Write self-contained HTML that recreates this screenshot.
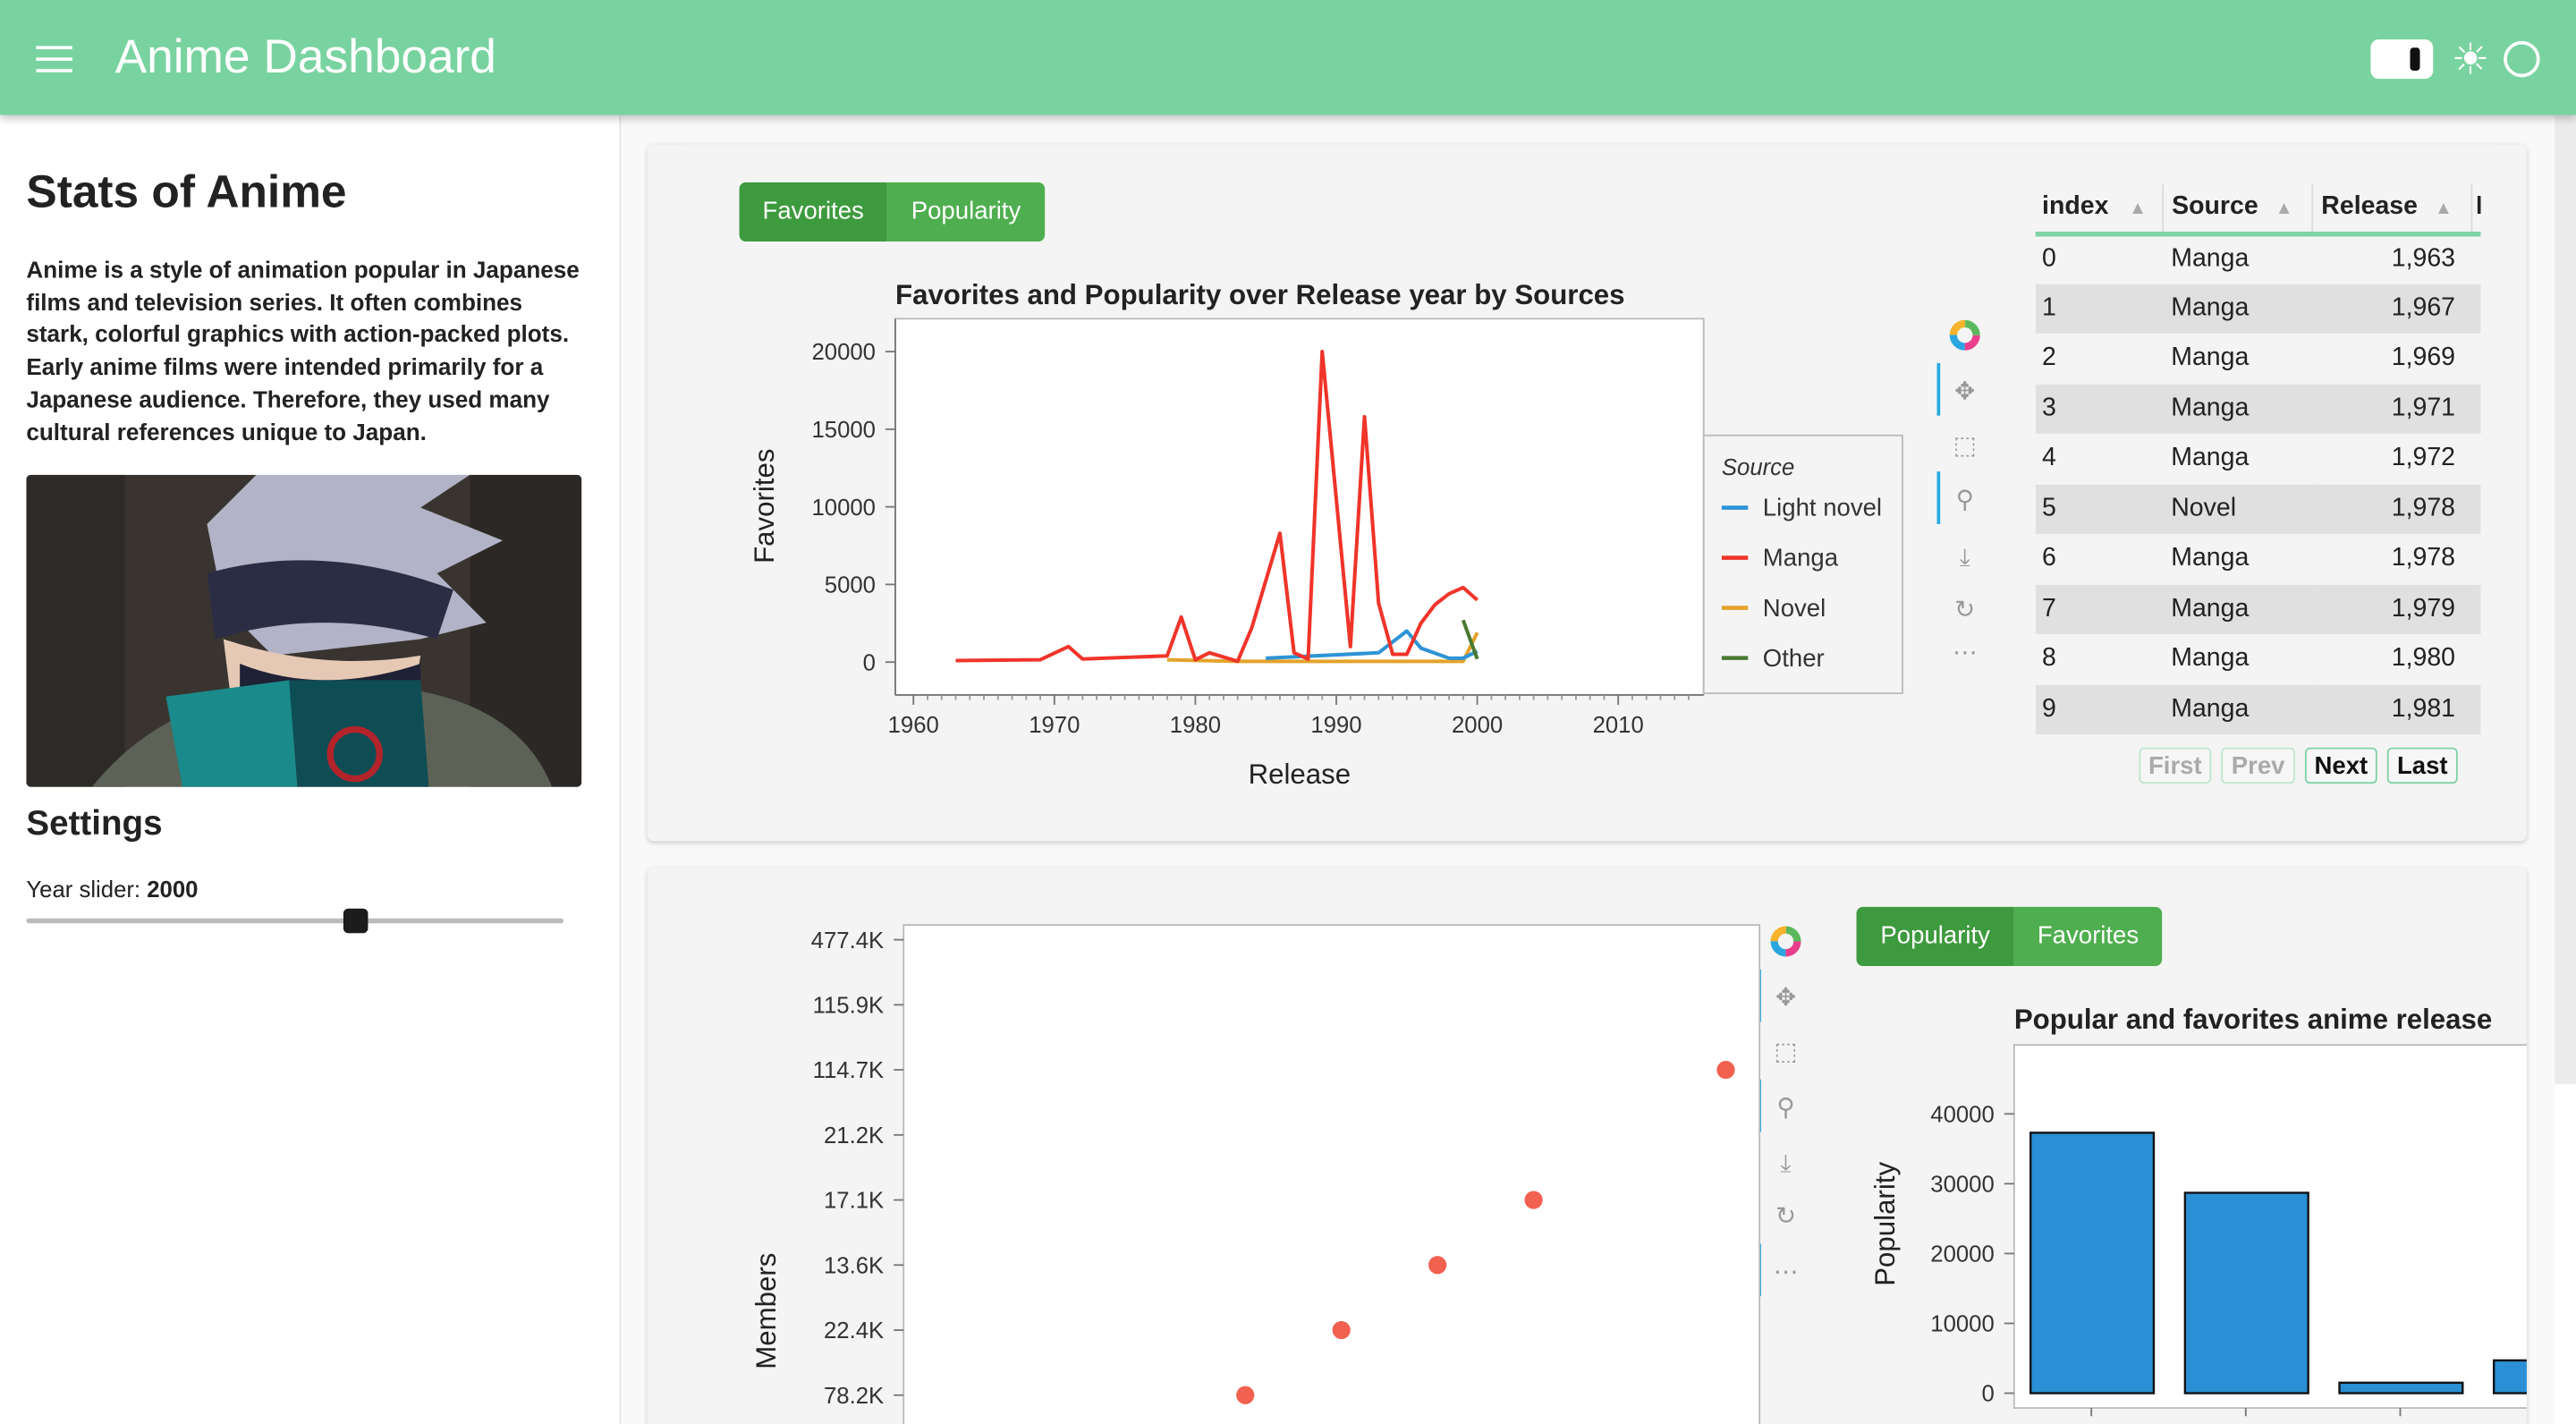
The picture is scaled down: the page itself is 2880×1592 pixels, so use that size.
<!DOCTYPE html>
<html><head><meta charset="utf-8">
<style>
html,body{margin:0;padding:0;width:2880px;height:1592px;overflow:hidden;background:#fff;}
#root{position:absolute;left:0;top:0;width:1568px;height:867px;transform:scale(1.836735);transform-origin:0 0;font-family:"Liberation Sans",sans-serif;background:#fff;overflow:hidden;}
.abs{position:absolute;}
#header{left:0;top:0;width:1568px;height:70px;background:#79d3a0;box-shadow:0 2px 5px rgba(0,0,0,.25);z-index:5;}
#main{left:378px;top:70px;width:1177px;height:797px;background:#f9f9f9;}
.card{background:#f4f4f4;border-radius:4px;box-shadow:0 1px 3px rgba(0,0,0,.18);}
.btn{position:absolute;color:#fff;font-size:15px;text-align:center;line-height:36px;}
table{border-collapse:collapse;}
.pg{position:absolute;top:455px;height:22px;border:1.5px solid #7fd3a5;border-radius:3px;font-size:15px;font-weight:bold;text-align:center;line-height:22px;background:#f6f6f6;box-sizing:border-box;}
</style></head>
<body>
<div id="root">
<div id="header" class="abs">
  <div class="abs" style="left:22px;top:28px;width:22px;height:16px;">
    <div style="height:2px;background:#fff;margin-bottom:5px"></div><div style="height:2px;background:#fff;margin-bottom:5px"></div><div style="height:2px;background:#fff"></div>
  </div>
  <div class="abs" style="left:70px;top:19px;color:#fff;font-size:29px;">Anime Dashboard</div>
  <div class="abs" style="left:1443px;top:24px;width:38px;height:24px;background:#fff;border-radius:5px;"><div style="position:absolute;left:24px;top:5px;width:6px;height:14px;background:#111;border-radius:2px"></div></div>
  <div class="abs" style="left:1492px;top:21px;color:#fff;font-size:26px;line-height:30px;">☀</div>
  <div class="abs" style="left:1524px;top:25px;width:18px;height:18px;border:2.5px solid #fff;border-radius:50%;"></div>
</div>

<div class="abs" style="left:0;top:70px;width:377px;height:797px;background:#fff;border-right:1px solid #e3e3e3;">
  <div class="abs" style="left:16px;top:31px;font-size:28px;font-weight:bold;color:#222;">Stats of Anime</div>
  <div class="abs" style="left:16px;top:86px;width:355px;white-space:nowrap;font-size:14.2px;font-weight:bold;line-height:19.7px;color:#222;">Anime is a style of animation popular in Japanese<br>films and television series. It often combines<br>stark, colorful graphics with action-packed plots.<br>Early anime films were intended primarily for a<br>Japanese audience. Therefore, they used many<br>cultural references unique to Japan.</div>
  <svg class="abs" style="left:16px;top:219px;border-radius:3px;" width="338" height="190" viewBox="0 0 338 190">
    <rect width="338" height="190" fill="#3a3430"/>
    <rect x="0" y="0" width="60" height="190" fill="#2e2a27"/><rect x="270" y="0" width="68" height="190" fill="#2c2825"/>
    <path d="M40 190 Q80 140 150 130 L230 130 Q300 140 320 190Z" fill="#5c6256"/>
    <path d="M110 30 L140 0 L270 0 L240 20 L290 40 L250 60 L280 90 L240 100 L150 110 L120 80Z" fill="#b2b3c6"/>
    <path d="M110 60 Q180 40 260 70 L250 100 Q180 80 115 100Z" fill="#2b2d45"/>
    <path d="M120 100 Q180 120 240 110 L235 140 L125 140Z" fill="#e5c9b5"/>
    <path d="M130 115 Q180 135 240 115 L240 150 L130 150Z" fill="#1f2135"/>
    <path d="M85 135 L160 125 L165 190 L95 190Z" fill="#1a8a8a"/>
    <path d="M160 125 L240 125 L245 190 L165 190Z" fill="#0f4d55"/>
    <circle cx="200" cy="170" r="15" fill="none" stroke="#b3232a" stroke-width="4"/>
  </svg>
  <div class="abs" style="left:16px;top:420px;font-size:21px;font-weight:bold;color:#222;">Settings</div>
  <div class="abs" style="left:16px;top:463px;font-size:14px;color:#222;">Year slider: <b>2000</b></div>
  <div class="abs" style="left:16px;top:489px;width:327px;height:3px;background:#bbb;border-radius:2px;"></div>
  <div class="abs" style="left:209px;top:483px;width:15px;height:15px;background:#1c1c1c;border-radius:3px;"></div>
</div>

<div id="main" class="abs"></div>
<div class="abs" style="left:1555px;top:70px;width:13px;height:590px;background:#ececec;"></div>

<div class="abs card" style="left:394px;top:88px;width:1144px;height:424px;"></div>
<div class="abs card" style="left:394px;top:528px;width:1144px;height:360px;"></div>

<div class="btn" style="left:450px;top:111px;width:90px;height:36px;background:#3e9a3e;border-radius:4px 0 0 4px;">Favorites</div>
<div class="btn" style="left:540px;top:111px;width:96px;height:36px;background:#4fae4f;border-radius:0 4px 4px 0;">Popularity</div>
<div class="btn" style="left:1130px;top:552px;width:96px;height:36px;background:#3e9a3e;border-radius:4px 0 0 4px;">Popularity</div>
<div class="btn" style="left:1226px;top:552px;width:90px;height:36px;background:#4fae4f;border-radius:0 4px 4px 0;">Favorites</div>

<div class="abs" style="left:1239px;top:112px;width:271px;overflow:hidden;font-size:15.5px;color:#222;">
<table id="tbl" style="width:290px;table-layout:fixed;">
<tr style="height:30px;border-bottom:3px solid #7fd3a5;font-weight:bold;">
<th style="width:72px;text-align:left;padding-left:4px;border-right:1px solid #ddd;">index <span style="color:#aaa;font-size:11px;margin-left:8px">▲</span></th>
<th style="width:84px;text-align:left;padding-left:5px;border-right:1px solid #ddd;">Source <span style="color:#aaa;font-size:11px;margin-left:6px">▲</span></th>
<th style="width:90px;text-align:left;padding-left:5px;border-right:1px solid #ddd;">Release <span style="color:#aaa;font-size:11px;margin-left:6px">▲</span></th>
<th style="text-align:left;padding-left:2px">I</th></tr>
</table></div>
<div class="pg" style="left:1302px;width:44px;color:#aaa;border-color:#bfe6cf;">First</div>
<div class="pg" style="left:1352px;width:45px;color:#aaa;border-color:#bfe6cf;">Prev</div>
<div class="pg" style="left:1403px;width:44px;color:#111;">Next</div>
<div class="pg" style="left:1453px;width:43px;color:#111;">Last</div>

<svg id="svg" class="abs" style="left:0;top:0" width="1568" height="867">
<defs><clipPath id="barclip"><rect x="1100" y="600" width="438" height="267"/></clipPath></defs>
</svg>
</div>

<script>
const tblIndex=[0,1,2,3,4,5,6,7,8,9];
const tblSource=["Manga","Manga","Manga","Manga","Manga","Novel","Manga","Manga","Manga","Manga"];
const tblRelease=["1,963","1,967","1,969","1,971","1,972","1,978","1,978","1,979","1,980","1,981"];

const mangaYears=[1963,1969,1971,1972,1978,1979,1980,1981,1983,1984,1986,1987,1988,1989,1991,1992,1993,1994,1995,1996,1997,1998,1999,2000];
const mangaFav=[100,150,1000,200,400,2900,150,600,50,2200,8300,600,200,20000,1000,15800,3800,500,500,2500,3700,4400,4800,4000];
const lightYears=[1985,1993,1995,1996,1998,1999,2000];
const lightFav=[250,600,2000,900,250,250,700];
const novelYears=[1978,1983,1999,2000];
const novelFav=[150,50,50,1900];
const otherYears=[1999,2000];
const otherFav=[2700,200];
const xTicks=[1960,1970,1980,1990,2000,2010];
const yTicks=[0,5000,10000,15000,20000];

const scatterLabels=["477.4K","115.9K","114.7K","21.2K","17.1K","13.6K","22.4K","78.2K"];
const scatterX=[1996,1997,1998,1999,2001];
const scatterCat=["78.2K","22.4K","13.6K","17.1K","114.7K"];

const barCats=["A","B","C","D"];
const barVals=[37300,28700,1500,4700];
const barTicks=[0,10000,20000,30000,40000];

const NS="http://www.w3.org/2000/svg";
const svg=document.getElementById('svg');
function mk(tag,attrs,parent){const e=document.createElementNS(NS,tag);for(const k in attrs)e.setAttribute(k,attrs[k]);(parent||svg).appendChild(e);return e;}
function txt(x,y,s,attrs){const e=mk('text',Object.assign({x:x,y:y,'font-family':'Liberation Sans, sans-serif'},attrs||{}));e.textContent=s;return e;}

const tbl=document.getElementById('tbl');
tblIndex.forEach((v,i)=>{
  const tr=document.createElement('tr');
  
  
  tr.style.height='30.5px';tr.style.background=i%2?'#e0e0e0':'#f4f4f4';
  tr.innerHTML='<td style="padding-left:4px">'+v+'</td><td style="padding-left:5px">'+tblSource[i]+'</td><td style="text-align:right;padding-right:10px">'+tblRelease[i]+'</td><td></td>';
  tbl.appendChild(tr);
});

const L={x0:545,x1:1037,y0:194,y1:423};
const lx=y=>556+(y-1960)*8.58;
const ly=v=>403-v*0.00945;
let g=mk('g',{});


mk('rect',{x:L.x0,y:L.y0,width:L.x1-L.x0,height:L.y1-L.y0,fill:'#fff',stroke:'#bbb'},g);
txt(545,185,'Favorites and Popularity over Release year by Sources',{'font-size':17,'font-weight':'bold',fill:'#222'});
mk('line',{x1:L.x0,y1:L.y1,x2:L.x1,y2:L.y1,stroke:'#777'},g);
mk('line',{x1:L.x0,y1:L.y0,x2:L.x0,y2:L.y1,stroke:'#777'},g);
xTicks.forEach(t=>{mk('line',{x1:lx(t),y1:L.y1,x2:lx(t),y2:L.y1+6,stroke:'#777'},g);
  const e=txt(lx(t),446,t,{'font-size':14,'text-anchor':'middle',fill:'#333'});});
for(let y=1961;y<2016;y++){if(y%10)mk('line',{x1:lx(y),y1:L.y1,x2:lx(y),y2:L.y1+3,stroke:'#999'},g);}
yTicks.forEach(t=>{mk('line',{x1:L.x0-6,y1:ly(t),x2:L.x0,y2:ly(t),stroke:'#777'},g);
  const e=txt(L.x0-12,ly(t)+5,t,{'font-size':14,'text-anchor':'end',fill:'#333'});});
const xt=txt(791,477,'Release',{'font-size':17,'text-anchor':'middle',fill:'#222'});
const yt=txt(0,0,'Favorites',{'font-size':17,'text-anchor':'middle',fill:'#222',transform:'translate(471,308) rotate(-90)'});
function series(xs,vs,color,name){const p=mk('polyline',{points:xs.map((x,i)=>lx(x)+','+ly(vs[i])).join(' '),fill:'none',stroke:color,'stroke-width':2.2,'stroke-linejoin':'round'},g);
  }
series(novelYears,novelFav,'#e3a32b','novel-line');
series(lightYears,lightFav,'#2d94d6','light-novel-line');
series(mangaYears,mangaFav,'#f0342a','manga-line');
series(otherYears,otherFav,'#4a7a32','other-line');
const lg=mk('g',{});


mk('rect',{x:1037,y:265,width:121,height:157,fill:'#f4f4f4',stroke:'#bbb'},lg);
txt(1048,289,'Source',{'font-size':14,'font-style':'italic',fill:'#333'});
[['Light novel','#2d94d6'],['Manga','#f0342a'],['Novel','#e3a32b'],['Other','#4a7a32']].forEach((d,i)=>{
  const y=309+i*30.5;const eg=mk('g',{},lg);
  
  
  mk('line',{x1:1048,y1:y,x2:1064,y2:y,stroke:d[1],'stroke-width':2.5},eg);
  txt(1073,y+5,d[0],{'font-size':15,fill:'#333'});
});

function toolbar(x,ys,active){
  const tg=mk('g',{});
  
  
  ['#e83e8c','#2aa7e0','#f7b32b','#5cb85c'].forEach((c,i)=>mk('circle',{cx:x,cy:ys[0],r:7,fill:'none',stroke:c,'stroke-width':4.5,'stroke-dasharray':'11 33','stroke-dashoffset':-11*i},tg));
  const glyphs=['✥','⬚','⚲','⤓','↻','⋯','▤'];
  ys.slice(1).forEach((y,i)=>{txt(x,y+6,glyphs[i]||'•',{'font-size':15,'text-anchor':'middle',fill:'#999','font-family':'DejaVu Sans, sans-serif'});
    if(active.includes(i))mk('line',{x1:x-16,y1:y-16,x2:x-16,y2:y+16,stroke:'#26aae1','stroke-width':2},tg);});
}
toolbar(1196,[204,237,270,303,338,370,396],[0,2]);
toolbar(1087,[573,606,639,673,707,739,773],[0,2,5]);

const sg=mk('g',{});


mk('rect',{x:550,y:563,width:521,height:320,fill:'#fff',stroke:'#bbb'},sg);
const sx=v=>758+(v-1996)*58.5;
const sy=c=>572+(scatterLabels.indexOf(c))*39.6;
scatterLabels.forEach(c=>{mk('line',{x1:544,y1:sy(c),x2:550,y2:sy(c),stroke:'#777'},sg);
  txt(538,sy(c)+5,c,{'font-size':14,'text-anchor':'end',fill:'#333'});});
txt(0,0,'Members',{'font-size':17,'text-anchor':'middle',fill:'#222',transform:'translate(472,798) rotate(-90)'});
scatterX.forEach((x,i)=>{const c=mk('circle',{cx:sx(x),cy:sy(scatterCat[i]),r:5.5,fill:'#f2604f'},sg);
  
  });

const bg=mk('g',{'clip-path':'url(#barclip)'});


txt(1226,626,'Popular and favorites anime release',{'font-size':17,'font-weight':'bold',fill:'#222'});
mk('rect',{x:1226,y:636,width:330,height:221,fill:'#fff',stroke:'#bbb'},bg);
const by=v=>848-v*0.00425;
const bx=i=>1236+i*94;
barTicks.forEach(t=>{mk('line',{x1:1220,y1:by(t),x2:1226,y2:by(t),stroke:'#777'},bg);
  txt(1214,by(t)+5,t,{'font-size':14,'text-anchor':'end',fill:'#333'});});
txt(0,0,'Popularity',{'font-size':17,'text-anchor':'middle',fill:'#222',transform:'translate(1153,745) rotate(-90)'});
barCats.forEach((c,i)=>{const r=mk('rect',{x:bx(i),y:by(barVals[i]),width:75,height:by(0)-by(barVals[i]),fill:'#2a8fd4',stroke:'#111','stroke-width':1.3},bg);
  
  
  mk('line',{x1:bx(i)+37,y1:857,x2:bx(i)+37,y2:862,stroke:'#777'},bg);});
</script>
</body></html>
